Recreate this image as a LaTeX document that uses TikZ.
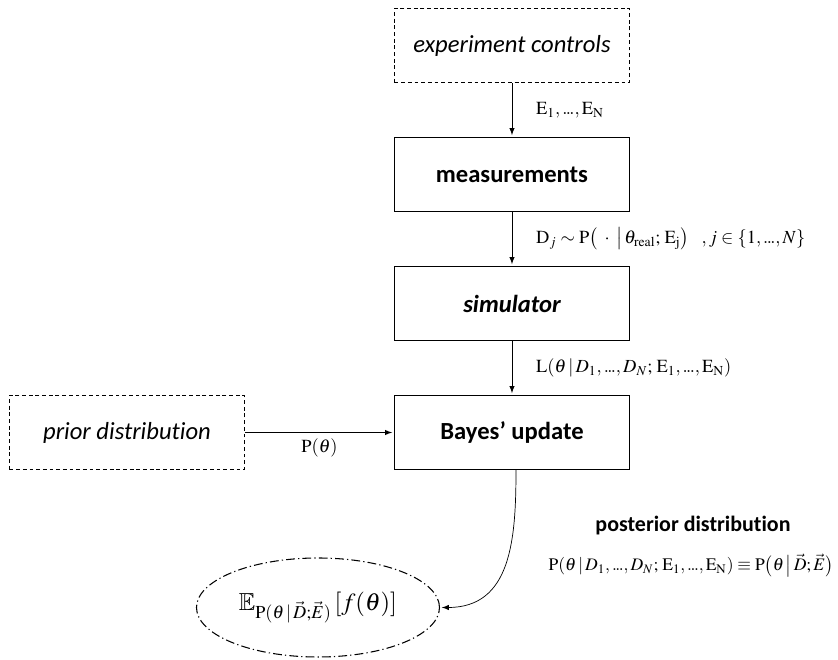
\documentclass[tikz,border=0pt]{standalone}
\usepackage{amsmath}
\usepackage{amssymb}
\usepackage{mathptmx}
\usepackage[no-math]{fontspec}
\setmainfont{Carlito}[Ligatures=NoCommon]
\usetikzlibrary{positioning, arrows}
\usetikzlibrary{shapes.geometric}
\newcommand{\tdots}{{.\mkern-1.5mu.\mkern-1.5mu.}}

\begin{document}
\begin{tikzpicture}[shorten >=1pt,node distance=2.58cm,on grid,auto,
        box/.style={draw, line width=0.7pt, minimum width=4.7cm, minimum height=1.48cm, font=\fontsize{14}{17}\selectfont},
        dashbox/.style={box, dash pattern=on 2.2pt off 1.6pt},
        lbl/.style={font=\fontsize{10.5}{12}\selectfont}]
        \useasboundingbox (-10.24,0.91) rectangle (6.52,-12.29);
        \node[dashbox] (ctrl) at (0,0) {\itshape experiment controls};
        \node[box, below of=ctrl] (meas) {\bfseries measurements};
        \node[box, below of=meas] (sim) {\bfseries\itshape simulator};
        \node[box, below of=sim] (bayes) {\bfseries Bayes’ update};
        \node[dashbox, node distance=7.7cm, left of=bayes] (prior) {\itshape prior distribution};
        \node[ellipse, draw, line width=0.6pt, dash pattern=on 5pt off 1.8pt on 0.7pt off 1.8pt,
                minimum width=4.86cm, minimum height=1.98cm, font=\fontsize{14}{17}\selectfont,
                below left=3.5cm and 3.88cm of bayes] (expect)
                {$\mathbb{E}_{\mathrm{P}(\theta\,|\,\vec{D};\vec{E})}\,[f(\theta)]$};
        \node[font=\bfseries\fontsize{12.5}{15}\selectfont, below right=1.86cm and 3.62cm of bayes] (post)
                {posterior distribution};
        \node[font=\fontsize{10}{12}\selectfont, node distance=0.8cm, below of=post, xshift=-0.04cm] (postf)
                {$\mathrm{P}(\theta\,|\,D_1,\tdots,D_N;\,\mathrm{E}_1,\tdots,\mathrm{E}_\mathrm{N})\equiv\mathrm{P}\big(\theta\,\big|\,\vec{D};\vec{E}\big)$};
        \draw[-latex]
                (ctrl) edge node[lbl, xshift=0.36cm]
                        {$\mathrm{E}_1,\tdots,\mathrm{E}_\mathrm{N}$} (meas)
                (meas) edge node[lbl, xshift=0.36cm]
                        {$\mathrm{D}_j\sim\mathrm{P}\big(\;\cdot\;\big|\,\theta_{\mathrm{real}};\,\mathrm{E}_\mathrm{j}\big)\ \ \ ,j\in\{1,\tdots,N\}$} (sim)
                (sim) edge node[lbl, xshift=0.36cm]
                        {$\mathrm{L}(\theta\,|\,D_1,\tdots,D_N;\,\mathrm{E}_1,\tdots,\mathrm{E}_\mathrm{N})$} (bayes)
                (prior) edge node[lbl, swap] {$\mathrm{P}(\theta)$} (bayes);
        \draw[-latex] ([xshift=0.08cm]bayes.south) to[out=-90, in=0, looseness=1.15] (expect.east);
\end{tikzpicture}
\end{document}
